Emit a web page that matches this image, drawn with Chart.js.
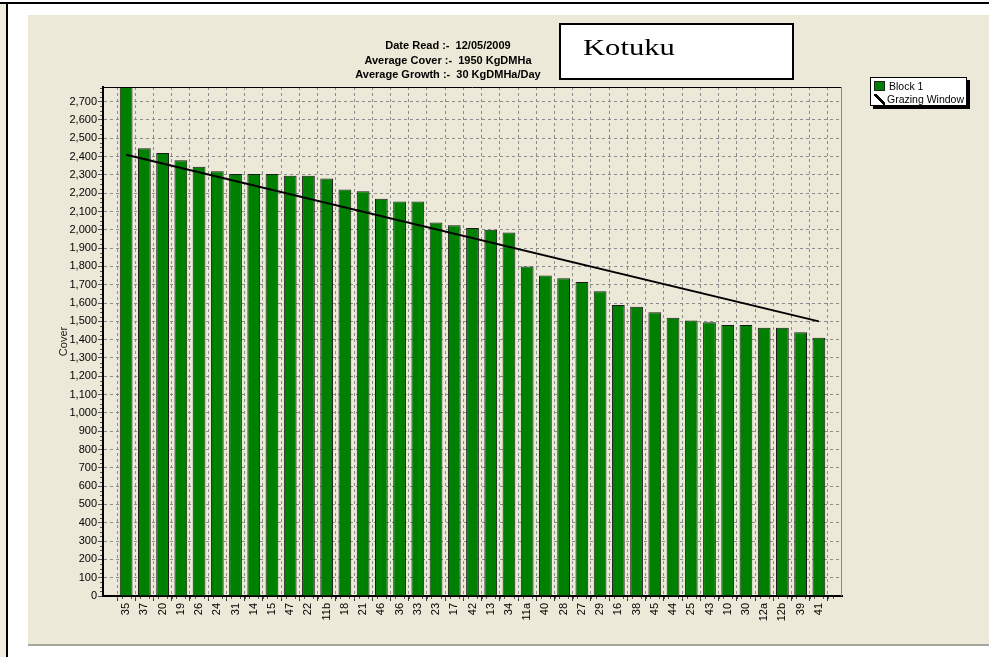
<!DOCTYPE html>
<html>
<head>
<meta charset="utf-8">
<script src="https://cdn.jsdelivr.net/npm/chart.js@4.4.1/dist/chart.umd.min.js"></script>
<style>
  body { margin: 0; background: #fff; width: 989px; height: 662px; overflow: hidden; position: relative; font-family: "Liberation Sans", Arial, sans-serif; }
  #leftStrip { position: absolute; left: 0; top: 3px; width: 6px; height: 654px; background: #efece2; }
  #topLine { position: absolute; left: 0; top: 2px; width: 989px; height: 2px; background: #000; }
  #leftLine { position: absolute; left: 6px; top: 2px; width: 2px; height: 655px; background: #000; }
  #panel { position: absolute; left: 28px; top: 15px; width: 961px; height: 629px; background: #ECE9D8; border-bottom: 2px solid #a8a69c; }
  #chartBox { position: absolute; left: 0; top: 0; width: 989px; height: 662px; }
  #header { position: absolute; left: 348px; top: 38px; width: 200px; text-align: center; font-weight: bold; font-size: 11px; line-height: 14.5px; color: #000; white-space: pre; }
  #kotuku { position: absolute; left: 559px; top: 23px; width: 231px; height: 53px; background: #fff; border: 2px solid #000; }
  #kotuku span { position: absolute; left: 22px; top: 10px; font-family: "Liberation Serif", "Times New Roman", serif; font-size: 23px; transform: scaleX(1.33); transform-origin: left top; }
  #legend { position: absolute; left: 870px; top: 77px; width: 95px; height: 27px; background: #fff; border: 1px solid #000; box-shadow: 3px 3px 0 #000; font-size: 10.5px; }
  .item { position: absolute; left: 3px; height: 13px; line-height: 13px; white-space: nowrap; }
  .sw { display: inline-block; width: 9px; height: 8px; margin-right: 4px; vertical-align: -1px; border: 1px solid #222; }
  .ln { display: inline-block; width: 11px; height: 11px; margin-right: 2px; vertical-align: -2px; background: linear-gradient(45deg, transparent 42%, #000 42%, #000 61%, transparent 61%); }
</style>
</head>
<body>
<div id="leftStrip"></div>
<div id="topLine"></div>
<div id="leftLine"></div>
<div id="panel"></div>
<div id="chartBox"><canvas id="coverChart"></canvas></div>
<div id="header"></div>
<div id="kotuku"><span>Kotuku</span></div>
<div id="legend"></div>
<script>
// Paddocks, highest cover first
const categories = ['35', '37', '20', '19', '26', '24', '31', '14', '15', '47', '22', '11b', '18', '21', '46', '36', '33',
    '23', '17', '42', '13', '34', '11a', '40', '28', '27', '29', '16', '38', '45', '44', '25', '43', '10', '30', '12a', '12b', '39', '41'];
const blockCover = [2780, 2445, 2420, 2380, 2345, 2320, 2305, 2305, 2305, 2295, 2295, 2280, 2220, 2210, 2170, 2155, 2155,
    2040, 2025, 2010, 2000, 1985, 1800, 1750, 1735, 1715, 1665, 1590, 1580, 1550, 1520, 1505, 1495, 1480, 1480, 1465, 1465, 1440, 1410];
// Grazing window: start and end cover
const grazingWindow = [2410, 1500];
const headerLines = ['Date Read :-  12/05/2009', 'Average Cover :-  1950 KgDMHa', 'Average Growth :-  30 KgDMHa/Day'];
const yMax = 2780;

document.getElementById('header').textContent = headerLines.join('\n');

const barPoints = blockCover.map((v, i) => ({ x: i, y: v }));
const linePoints = [{ x: 0, y: grazingWindow[0] }, { x: categories.length - 1, y: grazingWindow[1] }];

// top and right edges of the plot frame, plus little minor ticks on the axes
const frame = {
    id: 'frame',
    afterDatasetsDraw(chart) {
        const a = chart.chartArea;
        const c = chart.ctx;
        const xs = chart.scales.x, ys = chart.scales.y;
        c.save();
        c.lineWidth = 1;
        c.strokeStyle = '#000';
        c.beginPath();
        c.moveTo(a.left, a.top + 0.5);
        c.lineTo(a.right, a.top + 0.5);
        c.stroke();
        c.strokeStyle = '#8a8a8a';
        c.beginPath();
        c.moveTo(a.right - 0.5, a.top);
        c.lineTo(a.right - 0.5, a.bottom);
        c.stroke();
        c.strokeStyle = '#555';
        c.beginPath();
        for (let v = -0.5; v <= xs.max; v += 0.25) {
            if (Number.isInteger(v)) continue;
            const px = Math.round(xs.getPixelForValue(v)) + 0.5;
            c.moveTo(px, a.bottom + 1);
            c.lineTo(px, a.bottom + 3);
        }
        for (let v = 25; v < ys.max; v += 25) {
            if (v % 100 === 0) continue;
            const py = Math.round(ys.getPixelForValue(v)) + 0.5;
            c.moveTo(a.left - 3, py);
            c.lineTo(a.left - 1, py);
        }
        c.stroke();
        c.restore();
    }
};

const ctx = document.getElementById('coverChart').getContext('2d');
const coverChart = new Chart(ctx, {
    type: 'bar',
    data: {
        datasets: [{
            type: 'line',
            label: 'Grazing Window',
            data: linePoints,
            borderColor: '#000',
            borderWidth: 2,
            pointRadius: 0,
            order: 0
        }, {
            label: 'Block 1',
            data: barPoints,
            backgroundColor: '#008000',
            borderColor: '#1a1a1a',
            borderWidth: 1,
            categoryPercentage: 1,
            barPercentage: 0.7,
            order: 1
        }]
    },
    options: {
        responsive: true,
        maintainAspectRatio: false,
        animation: false,
        layout: { padding: { left: 55, top: 87, right: 147, bottom: 16 } },
        plugins: { legend: { display: false }, tooltip: { enabled: false } },
        scales: {
            x: {
                type: 'linear',
                min: -0.75,
                max: 38.75,
                afterFit: (s) => { s.height = 50; },
                grid: { color: '#8c8c8c', tickLength: 5, tickColor: '#333' },
                border: { color: '#000', width: 2, dash: [3, 3] },
                ticks: {
                    stepSize: 1,
                    autoSkip: false,
                    includeBounds: false,
                    minRotation: 90,
                    maxRotation: 90,
                    padding: 2,
                    color: '#000',
                    font: { family: 'Liberation Sans', size: 11 },
                    callback: (v) => Number.isInteger(v) ? (categories[v] || '') : ''
                }
            },
            y: {
                min: 0,
                max: yMax,
                afterFit: (s) => { s.width = 48; },
                grid: { color: '#8c8c8c', tickLength: 5, tickColor: '#555' },
                border: { color: '#000', width: 2, dash: [3, 3] },
                title: { display: true, text: 'Cover', color: '#222', font: { family: 'Liberation Sans', size: 11 }, padding: 2 },
                ticks: {
                    stepSize: 100,
                    autoSkip: false,
                    includeBounds: false,
                    padding: 1,
                    color: '#000',
                    font: { family: 'Liberation Sans', size: 11 },
                    callback: (v) => v.toLocaleString('en-US')
                }
            }
        }
    },
    plugins: [frame]
});

// legend box built from the datasets
const legend = document.getElementById('legend');
['Block 1', 'Grazing Window'].forEach((name, i) => {
    const ds = coverChart.data.datasets.find(d => d.label === name);
    const row = document.createElement('div');
    row.className = 'item';
    row.style.top = (2 + i * 13) + 'px';
    const icon = document.createElement('span');
    if (ds.type === 'line') {
        icon.className = 'ln';
    } else {
        icon.className = 'sw';
        icon.style.background = ds.backgroundColor;
    }
    row.appendChild(icon);
    row.appendChild(document.createTextNode(ds.label));
    legend.appendChild(row);
});
</script>
</body>
</html>
